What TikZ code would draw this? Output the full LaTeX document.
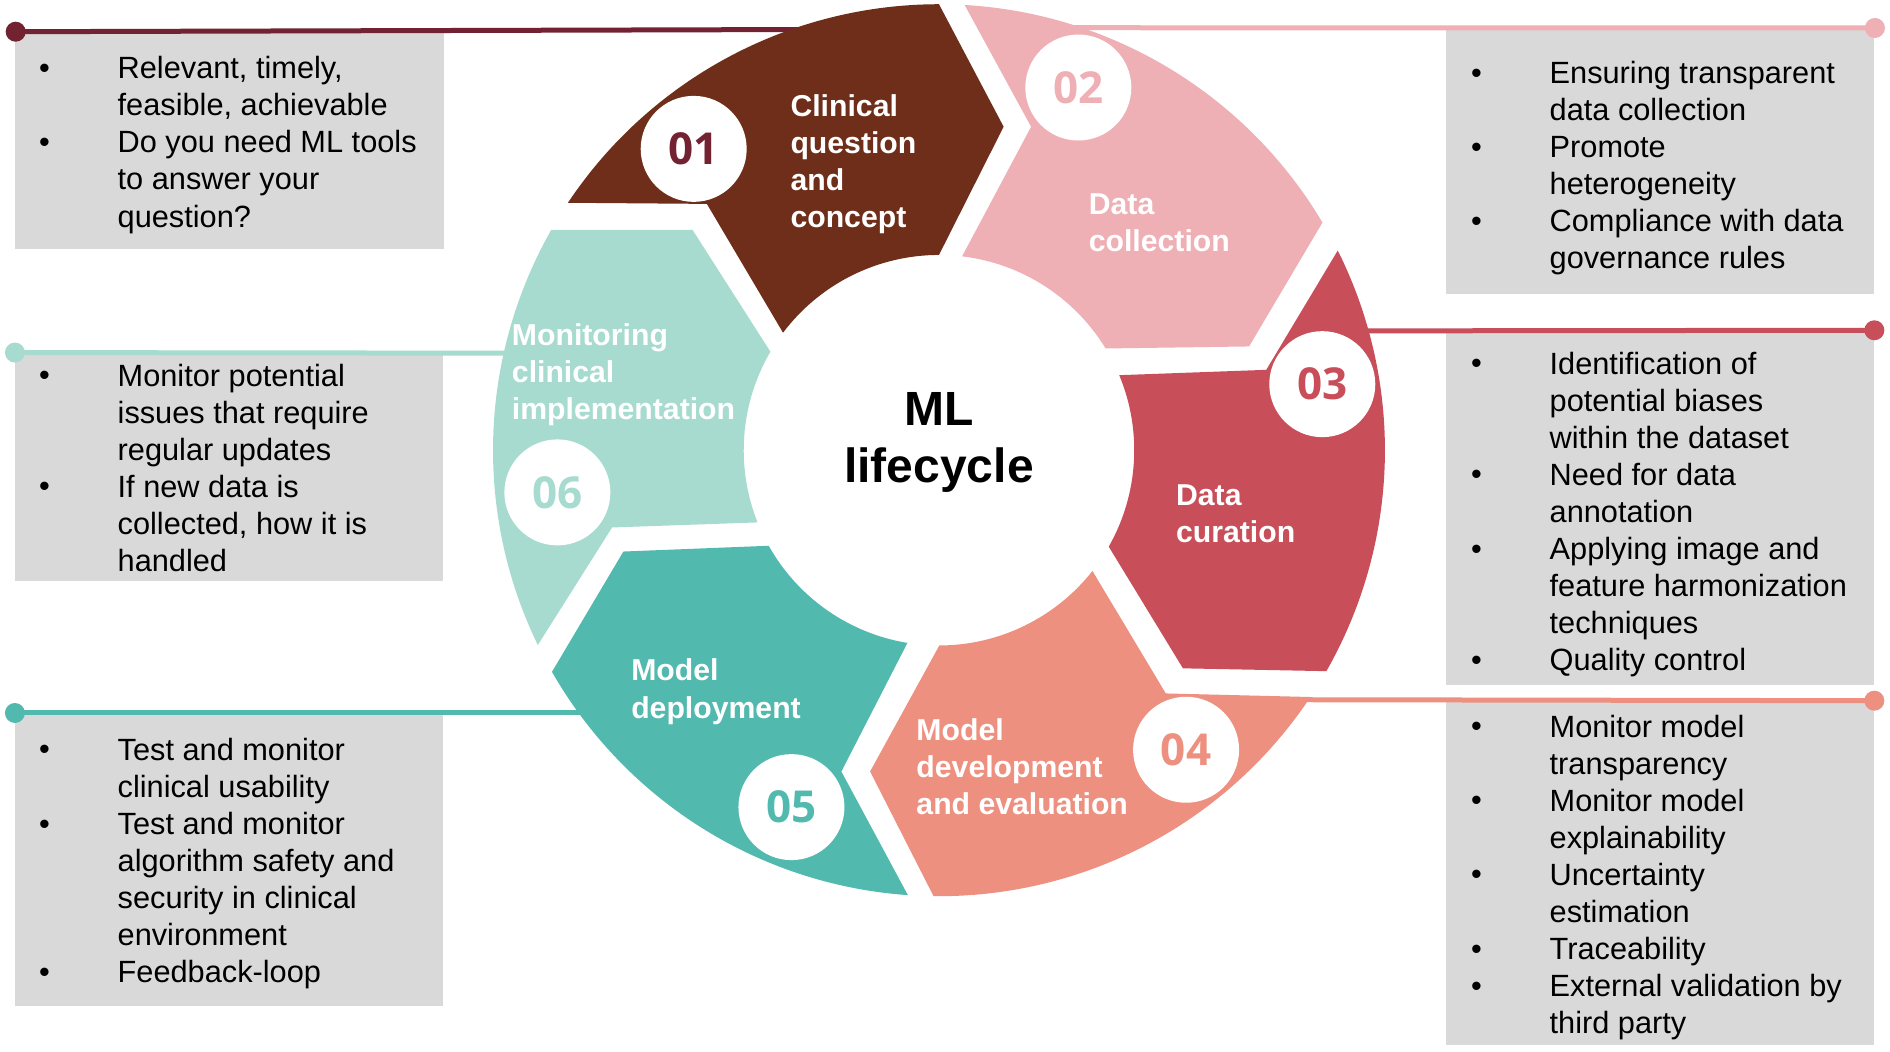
\documentclass[tikz,border=0pt]{standalone}
\usepackage{fontspec}
\setmainfont{Liberation Sans}
\newfontfamily\numfont{Open Sans}
\definecolor{cbrown}{HTML}{6E2E1A}
\definecolor{cpink}{HTML}{EEB0B5}
\definecolor{cred}{HTML}{C84E5A}
\definecolor{csalmon}{HTML}{EE9080}
\definecolor{cteal}{HTML}{52B9AE}
\definecolor{clteal}{HTML}{A7DBD0}
\definecolor{cmaroon}{HTML}{732232}
\definecolor{cgray}{HTML}{D9D9D9}
\newcommand\ringpiece[9]{\fill[#1] (#2:370) arc[start angle=#2,end angle=#3,radius=370] -- (#4:#5) -- (#6:162) arc[start angle=#6,end angle=#7,radius=162] -- (#8:#9) -- cycle;}
\begin{document}
\begin{tikzpicture}[x=0.6027pt,y=0.6027pt,
  body/.style={font=\fontsize{15.37}{18.53}\selectfont, align=left, anchor=north west, inner sep=0pt},
  bul/.style={font=\fontsize{15.37}{18.53}\selectfont, anchor=base, inner sep=0pt},
  lab/.style={font=\bfseries\fontsize{15.1}{18.6}\selectfont, text=white, align=left, anchor=north west, inner sep=0pt},
  numcirc/.style={circle, fill=white, inner sep=0pt, minimum size=53pt, font=\numfont\bfseries\fontsize{22}{26}\selectfont},
  dotmark/.style={circle, inner sep=0pt, minimum size=10pt},
  conn/.style={line width=2.5pt}]
\useasboundingbox (0,0) rectangle (1568,-872);
\fill[white] (0,0) rectangle (1568,-872);

% boxes
\fill[cgray] (12.4,-26.3) rectangle (368.5,-206.5);
\fill[cgray] (12.4,-292.5) rectangle (367.5,-482);
\fill[cgray] (12.4,-591.5) rectangle (367.8,-835);
\fill[cgray] (1199.6,-23.2) rectangle (1555,-244);
\fill[cgray] (1199.6,-274) rectangle (1555,-568);
\fill[cgray] (1199.6,-581.3) rectangle (1555,-867);

% connector lines and dots
\node[dotmark, fill=cmaroon] (d1) at (13,-26.3) {};
\node[dotmark, fill=cpink] (d2) at (1555.5,-23.2) {};
\node[dotmark, fill=cred] (d3) at (1555,-274) {};
\node[dotmark, fill=csalmon] (d4) at (1555,-581.3) {};
\node[dotmark, fill=cteal] (d5) at (12.4,-591.5) {};
\node[dotmark, fill=clteal] (d6) at (12.4,-292.5) {};
\coordinate (e1) at (662,-24.5);
\coordinate (e2) at (890,-23);
\coordinate (e3) at (1128,-274.5);
\coordinate (e4) at (1078,-580.5);
\coordinate (e5) at (488,-591.5);
\coordinate (e6) at (430,-293);
\draw[conn, cmaroon] (d1.center) -- (e1);
\draw[conn, cpink] (d2.center) -- (e2);
\draw[conn, cred] (d3.center) -- (e3);
\draw[conn, csalmon] (d4.center) -- (e4);
\draw[conn, cteal] (d5.center) -- (e5);
\draw[conn, clteal] (d6.center) -- (e6);

% ring
\begin{scope}[shift={(779,-373.5)}]
\ringpiece{cbrown}{146.3}{90}{78.7}{273.7}{90}{143}{133.3}{280.8}
\ringpiece{cpink}{86.7}{30.7}{18.5}{271.3}{31.4}{83.2}{74.1}{279}
\ringpiece{cred}{26.6}{-29.7}{-41.8}{271.5}{-29.6}{22.6}{13.8}{279.6}
\ringpiece{csalmon}{-33.6}{-90.7}{-102.1}{272.6}{-89.9}{-38.2}{-47}{275.9}
\ringpiece{cteal}{-94}{-150.2}{-162.2}{275}{-150.7}{-99.3}{-106.9}{278.6}
\ringpiece{clteal}{205.9}{150.4}{138.2}{274.3}{149.7}{201.7}{193.3}{278.7}
\end{scope}

% number circles
\node[numcirc, text=cmaroon] (n1) at (575.5,-123.5) {01};
\node[numcirc, text=cpink] (n2) at (894.6,-72.6) {02};
\node[numcirc, text=cred] (n3) at (1097,-318.7) {03};
\node[numcirc, text=csalmon] (n4) at (984,-622) {04};
\node[numcirc, text=cteal] (n5) at (656.6,-669.6) {05};
\node[numcirc, text=clteal] (n6) at (462.4,-408.5) {06};

% segment labels
\node[lab] (l1) at (655.5,-74.4) {\strut Clinical\\question\\and\\concept};
\node[lab] (l2) at (903,-155.9) {\strut Data\\collection};
\node[lab] (l3) at (975.4,-397.4) {\strut Data\\curation};
\node[lab] (l4) at (760,-592.4) {\strut Model\\development\\and evaluation};
\node[lab] (l5) at (523.4,-543) {\strut Model\\deployment};
\node[lab] (l6) at (424.4,-264.4) {\strut Monitoring\\clinical\\implementation};

% centre
\node[font=\bfseries\fontsize{24}{28.4}\selectfont, align=center, anchor=north, inner sep=0pt] (ml) at (779,-319.5) {\strut ML\\lifecycle};

% box texts
\node[body] (t1) at (97.3,-43.5) {\strut Relevant, timely,\\feasible, achievable\\Do you need ML tools\\to answer your\\question?};
\foreach \k in {0,2} \node[bul] (b1-\k) at (37,{-(65+30.75*\k)}) {•};

\node[body] (t6) at (97.3,-298.5) {\strut Monitor potential\\issues that require\\regular updates\\If new data is\\collected, how it is\\handled};
\foreach \k in {0,3} \node[bul] (b6-\k) at (37,{-(320+30.75*\k)}) {•};

\node[body] (t5) at (97.3,-609) {\strut Test and monitor\\clinical usability\\Test and monitor\\algorithm safety and\\security in clinical\\environment\\Feedback-loop};
\foreach \k in {0,2,6} \node[bul] (b5-\k) at (37,{-(630.5+30.75*\k)}) {•};

\node[body] (t2) at (1285.3,-47.5) {\strut Ensuring transparent\\data collection\\Promote\\heterogeneity\\Compliance with data\\governance rules};
\foreach \k in {0,2,4} \node[bul] (b2-\k) at (1225,{-(69+30.75*\k)}) {•};

\node[body] (t3) at (1285.3,-288.5) {\strut Identification of\\potential biases\\within the dataset\\Need for data\\annotation\\Applying image and\\feature harmonization\\techniques\\Quality control};
\foreach \k in {0,3,5,8} \node[bul] (b3-\k) at (1225,{-(310+30.75*\k)}) {•};

\node[body] (t4) at (1285.3,-589.7) {\strut Monitor model\\transparency\\Monitor model\\explainability\\Uncertainty\\estimation\\Traceability\\External validation by\\third party};
\foreach \k in {0,2,4,6,7} \node[bul] (b4-\k) at (1225,{-(611.2+30.75*\k)}) {•};
\end{tikzpicture}
\end{document}
